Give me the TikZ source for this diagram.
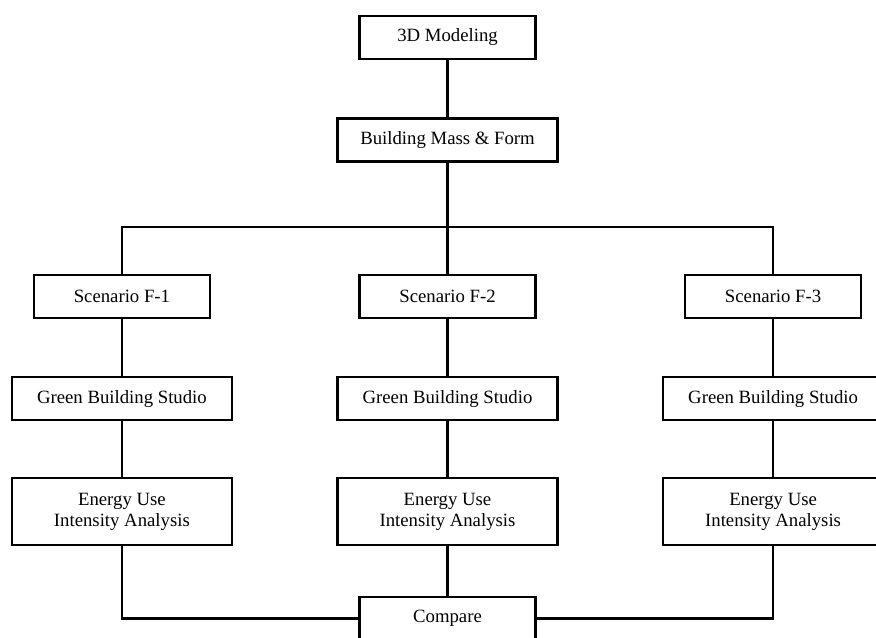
\documentclass[tikz,border=0pt]{standalone}
\usepackage{fontspec}
\setmainfont{Liberation Serif}
\usepackage{tikz}
\usetikzlibrary{positioning}

\begin{document}
\begin{tikzpicture}[
      x=0.03cm, y=-0.03cm,
      node distance=16.6mm and 44.1mm,
      box/.style={rectangle, draw, line width=2.2pt, align=center,
                  font=\fontsize{16}{18}\selectfont, inner sep=0pt,
                  minimum width=52.8mm, minimum height=12.9mm},
      wide/.style={box, minimum width=66mm},
      tall/.style={wide, minimum height=20.1mm},
      link/.style={line width=2pt}
    ]
    \useasboundingbox (0,0) rectangle (876,637);

    \node[box] (model) at (447.5,37.5) {3D Modeling};
    \node[wide, below=17.1mm of model] (mass) {Building Mass \& Form};

    \node[box, below=33.3mm of mass] (s2) {Scenario F-2};
    \node[box, left=of s2] (s1) {Scenario F-1};
    \node[box, right=of s2] (s3) {Scenario F-3};

    \node[wide, below=16.9mm of s1] (g1) {Green Building Studio};
    \node[wide, below=16.9mm of s2] (g2) {Green Building Studio};
    \node[wide, below=16.9mm of s3] (g3) {Green Building Studio};

    \node[tall, below=of g1] (e1) {Energy Use\\Intensity Analysis};
    \node[tall, below=of g2] (e2) {Energy Use\\Intensity Analysis};
    \node[tall, below=of g3] (e3) {Energy Use\\Intensity Analysis};

    \node[box, below=14.8mm of e2] (cmp) {Compare};

    \coordinate (split) at (447.5,227);

    \draw[link] (model) -- (mass);
    \draw[link] (mass) -- (split);
    \draw[link] (split) -- (s2);
    \draw[link] (s1) |- (split) -| (s3);
    \draw[link] (s1) -- (g1);
    \draw[link] (s2) -- (g2);
    \draw[link] (s3) -- (g3);
    \draw[link] (g1) -- (e1);
    \draw[link] (g2) -- (e2);
    \draw[link] (g3) -- (e3);
    \draw[link] (e1) |- (cmp);
    \draw[link] (e2) -- (cmp);
    \draw[link] (e3) |- (cmp);
  \end{tikzpicture}
\end{document}
